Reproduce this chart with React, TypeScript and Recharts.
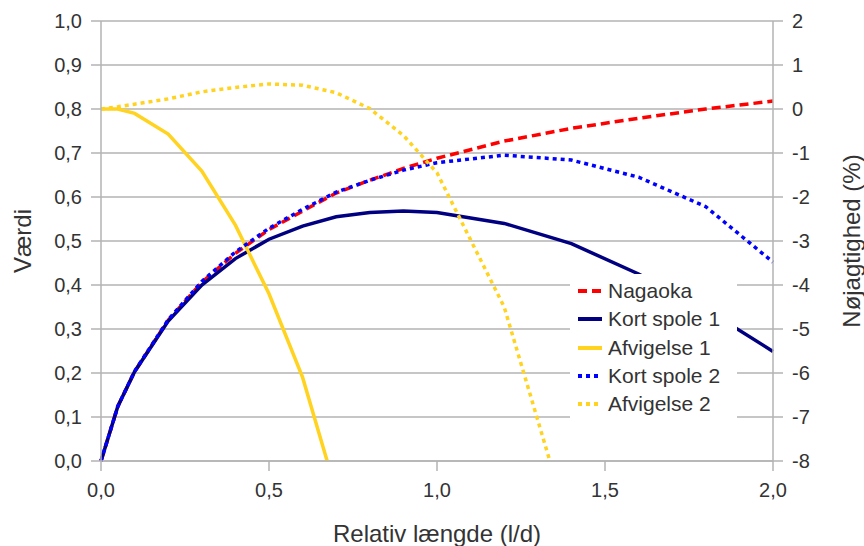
import React from 'react';
import { LineChart, Line, XAxis, YAxis, CartesianGrid, Legend } from 'recharts';

// Relative length l/d
const xValues = [0, 0.05, 0.1, 0.2, 0.3, 0.4, 0.5, 0.6, 0.7, 0.8, 0.9, 1.0, 1.2, 1.4, 1.6, 1.8, 2.0];
const nagaoka = [0, 0.124, 0.203, 0.32, 0.406, 0.472, 0.526, 0.568, 0.609, 0.638, 0.665, 0.688, 0.727, 0.756, 0.779, 0.8, 0.818];
const kortSpole1 = [0, 0.124, 0.203, 0.318, 0.4, 0.46, 0.504, 0.534, 0.555, 0.565, 0.568, 0.565, 0.54, 0.494, 0.425, 0.345, 0.249];
const afvigelse1 = [0, 0, -0.1, -0.57, -1.41, -2.64, -4.2, -6.1, -8.7, null, null, null, null, null, null, null, null];
const kortSpole2 = [0, 0.124, 0.204, 0.321, 0.408, 0.475, 0.529, 0.572, 0.611, 0.638, 0.661, 0.678, 0.695, 0.684, 0.645, 0.578, 0.452];
const afvigelse2 = [0, 0.05, 0.11, 0.23, 0.39, 0.49, 0.57, 0.54, 0.37, 0.01, -0.6, -1.45, -4.5, -9.65, null, null, null];

const leftTicks = [0, 0.1, 0.2, 0.3, 0.4, 0.5, 0.6, 0.7, 0.8, 0.9, 1.0];
const rightTicks = [-8, -7, -6, -5, -4, -3, -2, -1, 0, 1, 2];
const xTicks = [0, 0.5, 1.0, 1.5, 2.0];

const data = xValues.map((x, i) => ({
  x,
  nagaoka: nagaoka[i],
  kort1: kortSpole1[i],
  afv1: afvigelse1[i],
  kort2: kortSpole2[i],
  afv2: afvigelse2[i],
}));

const FONT = '"Liberation Sans", Arial, sans-serif';
const TEXT = '#333333';
const GRID = '#b3b3b3';
const YELLOW = '#ffd320';

const series = [
  { key: 'nagaoka', name: 'Nagaoka', axis: 'left', color: '#ff0000', dash: '9 5' },
  { key: 'kort1', name: 'Kort spole 1', axis: 'left', color: '#000080', dash: undefined },
  { key: 'afv1', name: 'Afvigelse 1', axis: 'right', color: YELLOW, dash: undefined },
  { key: 'kort2', name: 'Kort spole 2', axis: 'left', color: '#0000ff', dash: '4 4' },
  { key: 'afv2', name: 'Afvigelse 2', axis: 'right', color: YELLOW, dash: '4 4' },
];

const comma1 = (v: number) => v.toFixed(1).replace('.', ',');

const tickStyle = { fontFamily: FONT, fontSize: 20, fill: TEXT };

const renderLegend = (props: any) => {
  const payload: any[] = props.payload || [];
  const ordered = series
    .map((s) => ({ s, entry: payload.find((p) => p.value === s.name) }))
    .filter((o) => o.entry);
  return (
    <div style={{ background: '#ffffff', paddingTop: 3, boxSizing: 'border-box', width: 167, height: 146 }}>
      {ordered.map(({ s, entry }) => (
        <div key={s.key} style={{ display: 'flex', alignItems: 'center', height: 28.3 }}>
          <svg width={32} height={10} style={{ display: 'block' }}>
            <line x1={8} y1={5} x2={32} y2={5} stroke={entry.color || s.color} strokeWidth={4} strokeDasharray={s.dash} />
          </svg>
          <span style={{ marginLeft: 6, fontFamily: FONT, fontSize: 21, color: TEXT, lineHeight: '28px', whiteSpace: 'nowrap' }}>
            {entry.value}
          </span>
        </div>
      ))}
    </div>
  );
};

const LeftTitle = (props: any) => {
  const vb = props.viewBox || { x: 0, y: 21, width: 101, height: 440 };
  const cx = vb.x + 22;
  const cy = vb.y + vb.height / 2;
  return (
    <text x={cx} y={cy} transform={`rotate(-90 ${cx} ${cy})`} textAnchor="middle" dominantBaseline="central"
      style={{ fontFamily: FONT, fontSize: 24, fill: TEXT }}>Værdi</text>
  );
};

const RightTitle = (props: any) => {
  const vb = props.viewBox || { x: 773, y: 21, width: 91, height: 440 };
  const cx = vb.x + 78;
  const cy = vb.y + vb.height / 2;
  return (
    <text x={cx} y={cy} transform={`rotate(-90 ${cx} ${cy})`} textAnchor="middle" dominantBaseline="central"
      style={{ fontFamily: FONT, fontSize: 24, fill: TEXT }}>Nøjagtighed (%)</text>
  );
};

const BottomTitle = (props: any) => {
  const vb = props.viewBox || { x: 101, y: 461, width: 672, height: 85 };
  const cx = vb.x + vb.width / 2;
  const cy = vb.y + 72;
  return (
    <text x={cx} y={cy} textAnchor="middle" dominantBaseline="central"
      style={{ fontFamily: FONT, fontSize: 24, fill: TEXT }}>Relativ længde (l/d)</text>
  );
};

export default function App() {
  return (
    <div style={{ position: 'absolute', left: 0, top: 0, width: 864, height: 546, background: '#ffffff' }}>
      <LineChart width={864} height={546} data={data} margin={{ top: 21, right: 0, bottom: 0, left: 0 }}>
        <CartesianGrid vertical={false} stroke={GRID} strokeWidth={1.5} yAxisId="left" />
        <XAxis
          dataKey="x"
          type="number"
          domain={[0, 2]}
          ticks={xTicks}
          tickFormatter={comma1}
          height={85}
          tickSize={10}
          tickMargin={12}
          tick={tickStyle}
          stroke={GRID}
          axisLine={{ stroke: GRID, strokeWidth: 1.5 }}
          tickLine={{ stroke: GRID, strokeWidth: 1.5 }}
          label={BottomTitle}
        />
        <YAxis
          yAxisId="left"
          orientation="left"
          domain={[0, 1]}
          ticks={leftTicks}
          tickFormatter={comma1}
          width={101}
          tickSize={10}
          tickMargin={9}
          tick={tickStyle}
          axisLine={{ stroke: GRID, strokeWidth: 1.5 }}
          tickLine={{ stroke: GRID, strokeWidth: 1.5 }}
          label={LeftTitle}
          interval={0}
        />
        <YAxis
          yAxisId="right"
          orientation="right"
          domain={[-8, 2]}
          ticks={rightTicks}
          allowDataOverflow
          width={91}
          tickSize={10}
          tickMargin={9}
          tick={tickStyle}
          axisLine={{ stroke: GRID, strokeWidth: 1.5 }}
          tickLine={{ stroke: GRID, strokeWidth: 1.5 }}
          label={RightTitle}
          interval={0}
        />
        {series.map((s) => (
          <Line
            key={s.key}
            yAxisId={s.axis}
            dataKey={s.key}
            name={s.name}
            type="linear"
            stroke={s.color}
            strokeWidth={3.5}
            strokeDasharray={s.dash}
            dot={false}
            activeDot={false}
            connectNulls={false}
            isAnimationActive={false}
          />
        ))}
        <Legend
          layout="vertical"
          align="center"
          verticalAlign="middle"
          content={renderLegend}
          wrapperStyle={{ position: 'absolute', left: 570, top: 274, width: 167, height: 146 }}
        />
      </LineChart>
    </div>
  );
}
